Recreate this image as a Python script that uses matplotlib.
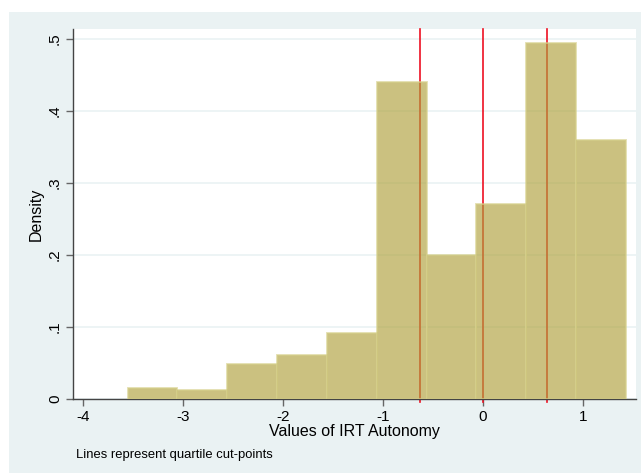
import numpy as np
import matplotlib.pyplot as plt
from matplotlib.patches import Rectangle

# histogram of IRT autonomy (density scale)
bin_left = -3.555
bin_width = 0.4985
densities = [0.015, 0.012, 0.049, 0.061, 0.092, 0.441, 0.200, 0.271, 0.495, 0.360]
quartiles = [-0.63, 0.0, 0.64]

xticks = [-4, -3, -2, -1, 0, 1]
yticks = [0, 0.1, 0.2, 0.3, 0.4, 0.5]
ytick_labels = ['0', '.1', '.2', '.3', '.4', '.5']

plt.rcParams['font.family'] = ['Liberation Sans', 'DejaVu Sans']

W, H = 641, 473
fig = plt.figure(figsize=(W / 100, H / 100), dpi=100)
fig.patch.set_facecolor('white')
# stata-like graph region
fig.patches.append(Rectangle((9 / W, 0), 1 - 9 / W, (H - 12) / H,
                             transform=fig.transFigure, facecolor='#EAF2F3',
                             edgecolor='none', zorder=-10))

ax = fig.add_axes([73 / W, 74 / H, (636 - 73) / W, (444 - 74) / H])
ax.set_zorder(1)
ax.set_facecolor('white')

lefts = bin_left + bin_width * np.arange(len(densities))
ax.bar(lefts, densities, width=bin_width, align='edge',
       color=(175 / 255, 161 / 255, 60 / 255, 0.65),
       edgecolor=(214 / 255, 208 / 255, 140 / 255, 0.7), linewidth=1.3, zorder=3)

for q in quartiles:
    ax.axvline(q, ymin=-0.008, ymax=1, color='#EE1122', linewidth=1.2,
               zorder=2, clip_on=False)

ax.set_xlim(-4.1, 1.53)
ax.set_ylim(0, 0.514)
ax.set_xticks(xticks)
ax.set_xticklabels([str(t) for t in xticks])
ax.set_yticks(yticks)
ax.set_yticklabels(ytick_labels, rotation=90, va='center')
ax.grid(axis='y', color='#EAF2F3', linewidth=1.2, zorder=0)
ax.set_axisbelow(True)

for s in ['top', 'right']:
    ax.spines[s].set_visible(False)
for s in ['left', 'bottom']:
    ax.spines[s].set_color('#444444')
    ax.spines[s].set_linewidth(1.0)
ax.tick_params(length=5, width=1, color='#666666', labelsize=11, pad=3)

ax.set_xlabel('Values of IRT Autonomy', fontsize=11.5, labelpad=0)
ax.set_ylabel('Density', fontsize=11.5, labelpad=3)

fig.text(76 / W, 1 - 455 / H, 'Lines represent quartile cut-points',
         fontsize=9.4, va='center', ha='left')

fig.savefig('out.png', dpi=100)
